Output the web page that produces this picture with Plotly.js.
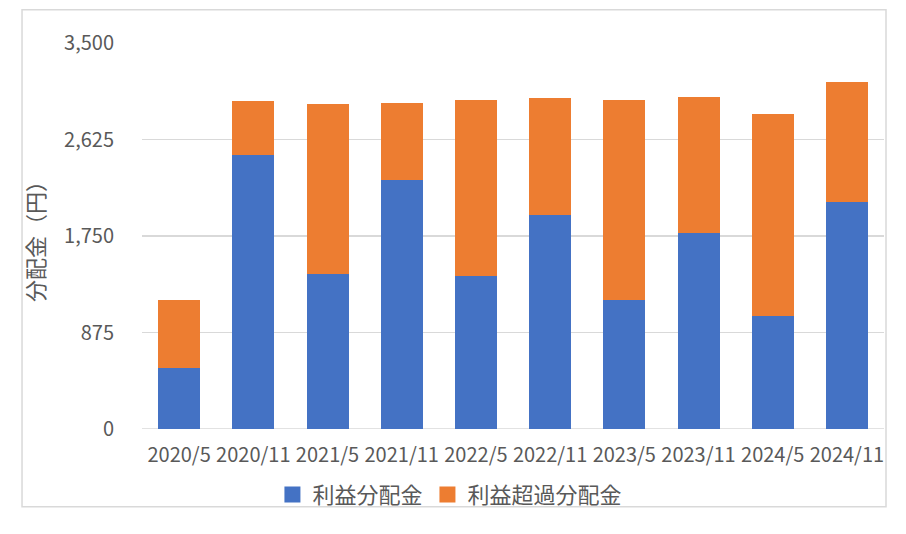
<!DOCTYPE html>
<html>
<head>
<meta charset="utf-8">
<script src="https://cdn.plot.ly/plotly-3.0.1.min.js"></script>
<style>
html,body{margin:0;padding:0;background:#fff;}
#chart{width:906px;height:534px;}
</style>
</head>
<body>
<div id="chart"></div>
<script>
const categories = ["2020/5","2020/11","2021/5","2021/11","2022/5","2022/11","2023/5","2023/11","2024/5","2024/11"];
const profitDist = [556, 2487, 1408, 2260, 1390, 1943, 1172, 1777, 1027, 2061];
const excessDist = [616, 490, 1542, 699, 1596, 1061, 1814, 1236, 1832, 1088];
const seriesNames = ["利益分配金", "利益超過分配金"];
const seriesColors = ["#4472C4", "#ED7D31"];
const yTicks = [0, 875, 1750, 2625, 3500];
const yTickText = ["0", "875", "1,750", "2,625", "3,500"];

const font = '"Noto Sans CJK JP", "Noto Sans", sans-serif';
const grey = '#595959';

const traces = [
  {type:'bar', name: seriesNames[0], x: categories, y: profitDist, marker:{color:seriesColors[0]}, hoverinfo:'none', showlegend:false},
  {type:'bar', name: seriesNames[1], x: categories, y: excessDist, marker:{color:seriesColors[1]}, hoverinfo:'none', showlegend:false},
  // legend entries with larger square swatches
  {type:'scatter', mode:'markers', name: seriesNames[0], x:[null], y:[null],
   marker:{symbol:'square', size:19, color:seriesColors[0]}, hoverinfo:'none'},
  {type:'scatter', mode:'markers', name: seriesNames[1], x:[null], y:[null],
   marker:{symbol:'square', size:19, color:seriesColors[1]}, hoverinfo:'none'}
];

const layout = {
  width: 906, height: 534,
  paper_bgcolor: '#fff', plot_bgcolor: '#fff',
  barmode: 'stack', bargap: 0.434,
  margin: {l:142, r:22, t:43, b:105},
  font: {family: font, color: grey, size: 20},
  showlegend: true,
  legend: {orientation:'h', x:0.415, xanchor:'center', y:-0.17, yanchor:'middle',
           bgcolor:'rgba(0,0,0,0)',
           font:{size:22, color:grey, family:font}, traceorder:'normal'},
  xaxis: {type:'category', tickangle:0, showgrid:false, zeroline:false, showline:false,
          ticks:'', tickfont:{size:20, color:grey}, ticklabelstandoff: 12, automargin:false},
  yaxis: {range:[0,3500], tickvals: yTicks, ticktext: yTickText, showgrid:true,
          gridcolor:'#d9d9d9', gridwidth:1.5, zeroline:false, showline:false, ticks:'',
          tickfont:{size:20, color:grey}, ticklabelstandoff: 27, automargin:false,
          title:{text:'分配金（円）', font:{size:22, color:grey}, standoff: 13}},
  shapes: [
    {type:'line', xref:'paper', yref:'y', x0:0, x1:1, y0:0, y1:0, line:{color:'#d9d9d9', width:1.5}, layer:'below'},
    {type:'rect', xref:'paper', yref:'paper', x0:-0.1617, x1:1.0027, y0:-0.2013, y1:1.0863,
     line:{color:'#d9d9d9', width:1.5}, fillcolor:'rgba(0,0,0,0)', layer:'below'}
  ]
};

Plotly.newPlot('chart', traces, layout, {displayModeBar:false, staticPlot:true});
</script>
</body>
</html>
